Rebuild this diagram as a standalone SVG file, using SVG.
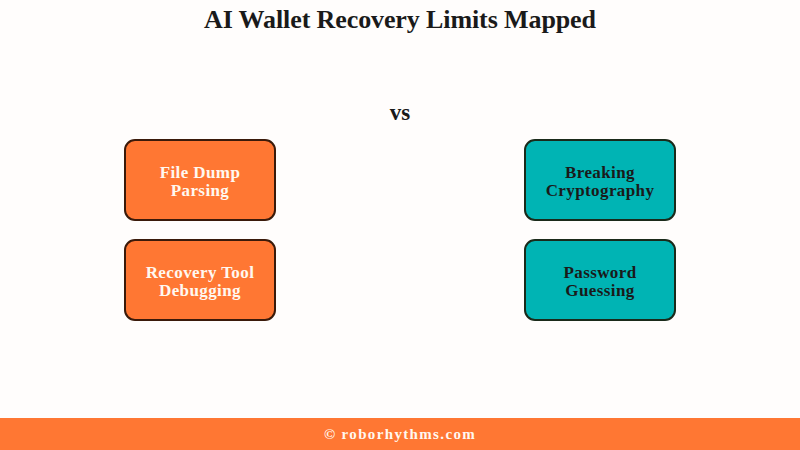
<svg xmlns="http://www.w3.org/2000/svg" width="800" height="450" viewBox="0 0 800 450">
<style>
text{font-family:"Liberation Serif",serif;font-weight:700;text-anchor:middle}
.b{stroke:#3a1a0a;stroke-width:2}
.t{stroke:#1a2a1a}
.o{fill:#ff7733}.t{fill:#00b4b4}
.l{font-size:17px;fill:#fff8f0;letter-spacing:.4px}.d{font-size:17px;fill:#1a1a1a;letter-spacing:.4px}
</style>
<rect width="800" height="450" fill="#fffdfc"/>
<text x="400" y="28" font-size="26" fill="#1a1a1a" textLength="392" lengthAdjust="spacing">AI Wallet Recovery Limits Mapped</text>
<text x="400" y="120" font-size="23" fill="#1a1a1a">vs</text>
<g id="connectors"/>
<g id="n1"><rect class="b o" x="125" y="140" width="150" height="80" rx="10"/><text class="l" x="200" y="178">File Dump</text><text class="l" x="200" y="196">Parsing</text></g>
<g id="n2"><rect class="b o" x="125" y="240" width="150" height="80" rx="10"/><text class="l" x="200" y="278">Recovery Tool</text><text class="l" x="200" y="296">Debugging</text></g>
<g id="n3"><rect class="b t" x="525" y="140" width="150" height="80" rx="10"/><text class="d" x="600" y="178">Breaking</text><text class="d" x="600" y="196">Cryptography</text></g>
<g id="n4"><rect class="b t" x="525" y="240" width="150" height="80" rx="10"/><text class="d" x="600" y="278">Password</text><text class="d" x="600" y="296">Guessing</text></g>
<rect x="0" y="418" width="800" height="32" fill="#ff7733"/>
<text x="400" y="439" font-size="15" fill="#fff8f0" letter-spacing="1.35">© roborhythms.com</text>
</svg>
